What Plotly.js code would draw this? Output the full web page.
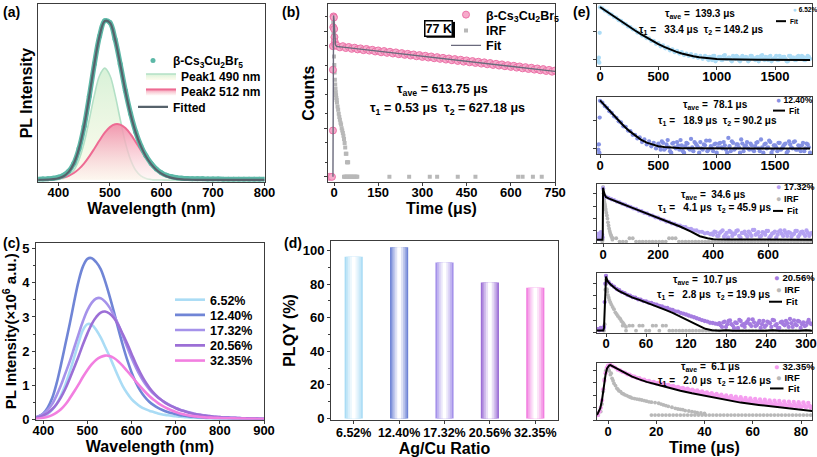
<!DOCTYPE html>
<html><head><meta charset="utf-8">
<script src="https://cdn.plot.ly/plotly-3.0.1.min.js"></script>
<style>html,body{margin:0;padding:0;background:#fff}#chart{width:817px;height:457px}</style>
</head><body><div id="chart"></div>
<script>
// ================= DATA =================
// (a) PL spectrum of beta-Cs3Cu2Br5 with two-peak fit
const wlA = [360,370,380,390,400,410,420,430,440,450,460,470,480,490,500,510,520,530,540,550,560,570,580,590,600,610,620,630,640,650,660,670,680,690,700,710,720,730,740,750,760,770,780,790,800];
const dataA = [0.004,0.005,0.007,0.010,0.016,0.028,0.052,0.101,0.190,0.326,0.508,0.707,0.876,0.968,0.957,0.856,0.705,0.543,0.404,0.292,0.208,0.146,0.100,0.066,0.043,0.028,0.019,0.013,0.010,0.008,0.007,0.006,0.006,0.005,0.005,0.005,0.004,0.004,0.004,0.004,0.004,0.004,0.004,0.004,0.004];
const peak1A = [0,0,0.0002,0.0007,0.0026,0.0084,0.024,0.058,0.123,0.226,0.367,0.517,0.635,0.680,0.635,0.517,0.367,0.226,0.123,0.058,0.024,0.0084,0.0026,0.0007,0.0002,0,0,0,0,0,0,0,0,0,0,0,0,0,0,0,0,0,0,0,0];
const peak2A = [0.0003,0.0007,0.0016,0.0035,0.0071,0.0136,0.0245,0.0417,0.0667,0.1006,0.143,0.191,0.241,0.287,0.321,0.338,0.336,0.315,0.278,0.231,0.181,0.134,0.093,0.061,0.0377,0.022,0.012,0.0062,0.003,0.0014,0.0006,0.0002,0,0,0,0,0,0,0,0,0,0,0,0,0];
const fitA = [0.0003,0.0007,0.0018,0.0042,0.0097,0.022,0.0485,0.0997,0.190,0.327,0.510,0.708,0.876,0.967,0.956,0.855,0.703,0.541,0.401,0.289,0.205,0.142,0.0956,0.0617,0.0379,0.022,0.012,0.0062,0.003,0.0014,0.0006,0.0002,0,0,0,0,0,0,0,0,0,0,0,0,0];

// (b) decay at 77 K
const bEarlyT = [-15,-7,-3.6,-3.6,-3.6,-2.5,-1.5,-0.5,0.5,1.5,2.5,4,6];
const bEarlyY = [1,1,9,160,490,1200,2000,1900,1100,750,600,530,505];
const bMain = [500,462,489,448,470,431,455,420,440,405,428,396,412,380,399,366,388,356,375,345,364,334,352,324,340,314,330,303,320,294,310,285,300,276,291,268,281,259,273,251,265,243,257,235,249,228,241,221,234,214,227,207,220,201,212,195,206,189,199,183,193,177,187,171,181,166,176,161,170,156,165,151,159,146,154];
const bIrfT = [-3.6,-3,-2,-1,0,1,2,3,4,5,6,7,8,9,10,12,14,16,18,20,22,24,26,28,30,32,34,36,38,40,42,44,46,48];
const bIrfY = [2100,1500,900,500,300,200,140,100,80,65,55,48,42,38,34,28,24,20,17,15,13,12,10,9,8,7,6,5,4,3,3,2,2,2];
const bIrfBaseT = [34,37,40,43,46,49,52,55,58,61,64,67,70,73,76,79,188,255,325,350,420,480,625,640,675,705];
const bIrfBaseY = [1,1,1,1,1,1,1,1,1,1,1,1,1,1,1,1,1,1,1,1,1,1,1,1,1,1];
const bFitT = [-3.6,-3.4,-2.5,-1.5,0,1,2,3,5,7,10,30,50,70,90,110,130,150,170,190,210,230,250,270,290,310,330,350,370,390,410,430,450,470,490,510,530,550,570,590,610,630,650,670,690,710,730,750];
const bFitY = [1,300,1500,2100,1700,1100,750,600,520,500,482.3,467.1,452.5,438.3,424.5,411.2,398.3,385.8,373.7,361.9,350.6,339.6,328.9,318.6,308.6,298.9,289.5,280.4,271.6,263.1,254.8,246.8,239.1,231.6,224.3,217.3,210.5,203.9,197.5,191.3,185.2,179.4,173.8,168.3,163.0,157.9,153.0,148.2];

// (c) PL spectra vs Ag/Cu ratio (x10^6 a.u.)
const wlC = [380,390,400,410,420,430,440,450,460,470,480,490,500,510,520,530,540,550,560,570,580,590,600,610,620,630,640,650,660,670,680,690,700,710,720,730,740,750,760,770,780,790,800,810,820,830,840,850,860,870,880,890,900];
const s652 = [0.03,0.05,0.09,0.16,0.28,0.45,0.70,1.02,1.40,1.82,2.25,2.62,2.79,2.77,2.62,2.40,2.13,1.85,1.55,1.25,0.98,0.77,0.60,0.48,0.38,0.31,0.26,0.22,0.18,0.15,0.13,0.11,0.095,0.08,0.07,0.06,0.05,0.045,0.04,0.035,0.03,0.027,0.024,0.02,0.018,0.016,0.014,0.012,0.01,0.01,0.01,0.01,0.01];
const s1240 = [0.05,0.10,0.18,0.35,0.62,1.05,1.60,2.20,2.80,3.45,4.05,4.48,4.70,4.72,4.60,4.40,4.05,3.62,3.15,2.65,2.18,1.75,1.38,1.08,0.84,0.66,0.52,0.42,0.34,0.28,0.23,0.19,0.16,0.13,0.11,0.09,0.08,0.07,0.06,0.05,0.045,0.04,0.035,0.03,0.028,0.025,0.022,0.02,0.018,0.016,0.014,0.012,0.01];
const s1732 = [0.06,0.10,0.17,0.28,0.45,0.70,1.00,1.35,1.70,2.10,2.50,2.88,3.20,3.42,3.54,3.55,3.45,3.28,3.05,2.78,2.45,2.12,1.80,1.52,1.27,1.06,0.89,0.75,0.64,0.55,0.47,0.40,0.34,0.29,0.25,0.21,0.18,0.15,0.13,0.11,0.095,0.08,0.07,0.06,0.055,0.05,0.045,0.04,0.035,0.03,0.028,0.025,0.02];
const s2056 = [0.04,0.07,0.12,0.19,0.30,0.45,0.65,0.90,1.20,1.52,1.85,2.20,2.52,2.80,3.00,3.13,3.16,3.10,2.97,2.76,2.50,2.22,1.92,1.62,1.36,1.13,0.94,0.78,0.65,0.55,0.46,0.39,0.33,0.28,0.24,0.20,0.17,0.145,0.125,0.11,0.095,0.08,0.07,0.06,0.055,0.05,0.045,0.04,0.035,0.03,0.028,0.025,0.02];
const s3235 = [0.02,0.03,0.05,0.08,0.13,0.20,0.30,0.44,0.62,0.82,1.03,1.25,1.45,1.62,1.75,1.83,1.87,1.86,1.80,1.70,1.57,1.42,1.27,1.11,0.96,0.82,0.69,0.58,0.48,0.40,0.33,0.27,0.22,0.18,0.15,0.12,0.10,0.085,0.07,0.06,0.055,0.05,0.045,0.04,0.04,0.035,0.03,0.03,0.025,0.02,0.02,0.015,0.015];
const ratioLabels = ['6.52%','12.40%','17.32%','20.56%','32.35%'];

// (d) PLQY
const plqy = [96.3,102.0,92.9,81.0,77.9];

// (e) decays (arbitrary counts)
const e1PreT = [-14,-10,-6,-3], e1PreY = [9,12,8,93];
const e1Data = [760,700,585,540,448,415,345,322,265,248,205,192,158,150,124,118,96,93,75,74,60,59,48,48,38,40,31,33,26,28,22,24,19,21,17,19,15,17,14,16,13,15,12,14,11,14,11,13,10,14,11,13,10,14,11,12,10,14,11,13,9,14,11,12,10,14,11,12,9,14,11,13,10,14,11,12,10,14,11,13,9,14,11,12,10,14,11,13,10,14,11];
const e1Data2 = [13,10,12,14,9,11,13,10,15,11,12,9,13,14,10,12,11,13,9,14,12,10,13,11,15,10,12,13,9,11,14,10,12,13,11,9,14,12,10,13,11,14,10,12,13];
const e1Fit = [780,560,404,291,211,154,113,83.5,62.5,47.6,36.9,29.2,23.7,19.8,17,15,13.6,12.6,11.8,11.3,10.9,10.7,10.5,10.35,10.25,10.2,10.15,10.1,10.1,10.05,10.05,10,10,10,10,10,10];

const e2PreT = [-14,-10,-6,-3], e2PreY = [9,14,7,130];
const e2Data = [520,445,338,290,220,190,144,127,95,86,63,60,44,42,31,31,23,25,17,21,14,18,12,16,10,15,9,16,10,20,8,15,11,17,9,13,7,16,10,22,8,15,11,17,9,13,8,19,10,14,7,15,11,17,9,24,8,16,10,14,7,15,12,17,9,13,8,16,10,21,7,15,11,17,9,13,8,16,10,14,7,18,11,17,9,13,8,16,10,14,7];
const e2Data2 = [12,18,9,14,11,7,16,10,13,20,8,12,15,9,11,17,13,7,10,14,19,9,12,8,15,11,16,10,13,7,12,18,9,14,11,21,8,13,10,15,9,12,17,8,11,14,10,19,7,13,11,16,9,12,15,8,14,10,18,9,12,13,8,15,11];
const e2Fit = [540,314,184.5,110,67.4,43,28.9,20.9,16.2,13.6,12.05,11.2,10.7,10.4,10.2,10.1,10.05,10,10,10,10,10,10,10,10,10,10,10,10,10,10,10,10,10,10,10,10];

const e3PreT = [-20,-17,-14,-11,-8,-5,-3,-1], e3PreY = [3,6,2.2,4,8,2.5,5,3];
const e3Data = [28000,5800,4700,3600,3100,2350,2050,1550,1330,1000,880,660,590,430,390,285,260,190,175,128,118,87,80,58,55,41,38,28,27,21,20,15,15,11,11,8.5,8.5,6.5,7,5.5,5,8,4,9,3.5,7,10,4,6,11,3,7,5,9,4,12,6,3.5,8,5,10,4,7,3,9,6,11,4,7,5,10,3.5,8,6,11,4,7];
const e3Data2 = [6,9,4,7,11,5,3,8,6,10,4,7,9,3.5,6,12,5,8,4,7,10,3,6,9,5,11,4,7,8,3.5,6,10,5,9,4,7,6];
const e3FitT = [-22,-10,-2,-1,0,2,5,10,20,37,60,100,159,220,280,320,352,380,401,450,500,550,600,650,700,760];
const e3FitY = [2,2,2,5,30000,18000,9500,5500,4200,3160,1900,830,260,83,23,9,3.8,2.6,2.2,2.05,2,2.1,1.95,2.05,2,2];
const e3IrfT = [-3,-1,0,1,2,3,4,5,6,7,8,9,10,12,14,16,18,20,22,24,26,28,30,32,34];
const e3IrfY = [1.4,2,36000,20000,11000,6000,3500,2200,1600,1260,900,650,480,300,180,100,50,28,16,10,7,5,4,3,2];
const e3IrfBase = [2.6,2.6,1.4,1.4,1.4,2.6,2.6,1.4,1.4,1.4,1.4,1.4,1.4,1.4,1.4,1.4,1.4,2.6,2.6,2.6,1.4,1.4,1.4,1.4,1.4,1.4,1.4,1.4,1.4,1.4,1.4,1.4,1.4,1.4,1.4,1.4,1.4,1.4,1.4,1.4,1.4,1.4,1.4,1.4,1.4,1.4,1.4,1.4,1.4,1.4,1.4,1.4,1.4,1.4,1.4,1.4,1.4,1.4,1.4,1.4,1.4];

const e4PreT = [-12,-10,-8,-6,-4,-3,-2,-1], e4PreY = [2,1.6,2.5,1.8,2.2,3,300,9000];
const e4Data = [38000,12000,7400,5200,3400,2700,1900,1600,1150,990,740,670,510,470,360,345,270,255,200,190,145,135,105,100,76,72,54,52,40,35,30,25,21,18,15,12.5,10.5,9,8,6.5,6.2,5.5,5,4,7,3,9,5,2.5,6,11,4,3,8,5,12,3.5,6,2.5,9,4,7,3,10,5,2.5,8,4,6,13,3,5,9,2.5,7,4,11,5];
const e4Data2 = [6,3,8,5,10,4,7,2.5,9,5,6,12,3.5,7,4,9,5,3,8,6,11,4,2.5,7,5,9,3,6,10,4,8,5,3.5,7,6];
const e4FitT = [-13.5,-8,-4,-3,-2,-1,0,1,3,6.5,10,14,19,25,32,39,50,60,70,79,90,100,109,119,129,139,149,159,170,180,190,200,210,220,230,240,250,260,270,280,290,300,309];
const e4FitY = [1.53,1.53,1.55,2.5,360,8000,34600,22000,13000,8300,5500,3700,2400,1600,1050,720,450,290,180,114,68,40,24,13.5,7.2,3.8,2.1,1.6,1.45,1.6,1.5,1.55,1.4,1.55,1.5,1.45,1.6,1.5,1.45,1.55,1.5,1.6,1.5];
const e4IrfT = [-3,-2,-1,0,0.5,1,1.5,2,3,4,5,6.5,8,10,12,14,16,18,20,21.5,23,25,26.5,28,30];
const e4IrfY = [1.5,5,3000,38000,20000,9000,3300,2000,1100,700,450,290,190,120,80,45,32,22,16,13,9,7,5.2,4,3];
const e4IrfBase = [3.8,1.5,3.8,3.8,1.5,3.8,3.8,1.5,1.5,3.8,3.8,1.5,3.8,3.8,1.5,1.5,1.5,1.5,1.5,1.5,1.5,1.5,1.5,1.5,1.5,1.5,1.5,1.5,1.5,1.5,1.5,1.5,1.5,1.5,1.5,1.5,1.5,1.5,1.5,1.5,1.5,1.5,1.5,1.5,1.5,1.5,1.5,1.5,1.5,1.5,1.5,1.5,1.5,1.5,1.5,1.5,1.5];

const e5PreT = [-4.2,-3.5,-3,-2.5,-2,-1.5,-1,-0.5], e5PreY = [2.6,5,10,40,300,1500,6000,16000];
const e5Data = [24000,27000,21000,17000,11500,9800,7600,6700,4900,4500,3400,3150,2450,2350,1800,1800,1380,1450,1080,1180,870,1000,720,830,590,700,480,580,400,480,330,400,270,340,225,290,190,245,160,205,135,175,112,150,95,130,80,112,68,98,58,88,48,78,42,70,36,62,32,56,28,52,25,48,22,44,20,40,18,37,16,35,15,33,14,31,13,29,12,28,11,27,11,25,10];
const e5Data2 = [960,800,780,660,650,540,520,480,410,400,330,330,270,275,230,225,190,188,160,155,135,130,112,108,95,92,78,79,66,67,55,58,47,50,40,45,35,40,31,35,27,32,25,29,22,27,20,25,18,23,17,21,16,20,15,19,14,18,13.5,17,13,16,12.5,15,12];
const e5FitT = [-4.56,-4,-3.2,-2.5,-1.8,-1,-0.4,0.5,1,2,3,4.4,6,8,10,13,16,21,26,30,34.8,40,45,48.6,55,62.5,70,76.3,84.6];
const e5FitY = [2.6,4,9.1,40,665,4800,14500,25000,26500,21000,15800,10500,7600,4800,3150,1900,1200,665,363,229,145,91,58,42,26,16.7,11,8,5.5];
const e5IrfT = [-4,-3,-2.5,-2,-1.5,-1,-0.5,0,0.5,1,1.7,2.5,3.7,4.5,5.8,7,8.6,10,12,14,16,18,21,23,25,27.9,30,32,34.8,37,40,0.2,1.3,2.1,3.1,4.1,5.2,6.4,7.8,9.3,11,13,15,17,19.5,22,24,26.5,29,31,33.5,36,38.5];
const e5IrfY = [2.6,5,20,200,2000,9000,14500,15000,9000,4500,2300,900,363,230,145,110,79,60,50,42,34,28,23,17,13,9,7.5,6,5,4,3.5,12000,6000,1500,600,300,200,130,95,70,55,46,38,30,26,20,15,11,8,7,5.5,4.5,3.8];
const e5IrfBase = [2.6,2.6,2.6,2.6,2.6,2.6,2.6,2.6,2.6,2.6,2.6,2.6,2.6,2.6,2.6,2.6,2.6,2.6,2.6,2.6,2.6,2.6,2.6,2.6,2.6,2.6,2.6,2.6,2.6,2.6,2.6,2.6,2.6,2.6,2.6,2.6,2.6,2.6,2.6,2.6,2.6,2.6,2.6,2.6,2.6];

// ================= STYLE / LAYOUT =================
const W = 817, H = 457;
const X = p => p / W, Y = p => 1 - p / H;
const FAM = 'Liberation Sans, Arial, sans-serif';
const f = (s, c) => ({family: FAM, size: s, color: c || '#000', weight: 'bold'});
const LC = '#3c3c3c';
function ax(o) {
  return Object.assign({showline: true, linecolor: LC, linewidth: 1, mirror: true, ticks: 'outside', ticklen: 3,
    tickwidth: 1, tickcolor: LC, showgrid: false, zeroline: false, tickfont: f(13), fixedrange: true}, o);
}
const COL = {
  teal: '#5cb8a7', fitA: '#56626b', p1: '#b3e0c6', p2: '#ee6b93',
  bPink: '#f6abcb', bPinkLine: '#ec72a8', irf: '#b8b8b8', fitB: '#6a6a7c',
  c: ['#aadcf5', '#7085d6', '#a592ea', '#9c6fd6', '#f27fe0'],
  e: ['#acdcf6', '#8592e4', '#b4a2f2', '#a57ce0', '#f59ef0']
};
function mix(hex, t) { // t=0 -> colour, t=1 -> white
  const n = parseInt(hex.slice(1), 16);
  const r = (n >> 16) & 255, g = (n >> 8) & 255, b = n & 255;
  const m = v => Math.round(v + (255 - v) * t);
  return 'rgb(' + m(r) + ',' + m(g) + ',' + m(b) + ')';
}

const traces = [];
// ----- (a)
traces.push({x: wlA, y: peak1A, type: 'scatter', mode: 'lines', name: 'Peak1 490 nm', legend: 'legend2',
  line: {color: COL.p1, width: 1.6, shape: 'spline'}, fill: 'tozeroy',
  fillgradient: {type: 'vertical', start: 0, stop: 0.68, colorscale: [[0, 'rgba(252,250,230,0.7)'], [1, 'rgba(214,241,214,0.95)']]},
  xaxis: 'x', yaxis: 'y'});
traces.push({x: wlA, y: peak2A, type: 'scatter', mode: 'lines', name: 'Peak2 512 nm', legend: 'legend3',
  line: {color: COL.p2, width: 2, shape: 'spline'}, fill: 'tozeroy',
  fillgradient: {type: 'vertical', start: 0, stop: 0.34, colorscale: [[0, 'rgba(253,244,240,0.6)'], [1, 'rgba(242,140,168,0.9)']]},
  xaxis: 'x', yaxis: 'y'});
traces.push({x: wlA, y: dataA, type: 'scatter', mode: 'lines', showlegend: false,
  line: {color: COL.teal, width: 5, shape: 'spline'}, xaxis: 'x', yaxis: 'y'});
traces.push({x: wlA, y: dataA, type: 'scatter', mode: 'markers', name: 'β-Cs<sub>3</sub>Cu<sub>2</sub>Br<sub>5</sub>',
  legend: 'legend', marker: {color: COL.teal, size: 5}, xaxis: 'x', yaxis: 'y'});
traces.push({x: wlA, y: fitA, type: 'scatter', mode: 'lines', name: 'Fitted', legend: 'legend4',
  line: {color: COL.fitA, width: 2.2, shape: 'spline'}, xaxis: 'x', yaxis: 'y'});

// ----- (b)
traces.push({x: bIrfT, y: bIrfY, type: 'scatter', mode: 'markers', name: 'IRF', legend: 'legend6',
  marker: {symbol: 'square', color: COL.irf, size: 4}, xaxis: 'x2', yaxis: 'y2'});
traces.push({x: bIrfBaseT, y: bIrfBaseY, type: 'scatter', mode: 'markers', showlegend: false,
  marker: {symbol: 'square', color: COL.irf, size: 4}, xaxis: 'x2', yaxis: 'y2'});
traces.push({x: bEarlyT, y: bEarlyY, type: 'scatter', mode: 'markers', name: 'β-Cs<sub>3</sub>Cu<sub>2</sub>Br<sub>5</sub>',
  legend: 'legend5', marker: {color: COL.bPink, size: 7, line: {color: COL.bPinkLine, width: 1}}, xaxis: 'x2', yaxis: 'y2'});
traces.push({x0: 10, dx: 10, y: bMain, type: 'scatter', mode: 'markers', showlegend: false,
  marker: {color: COL.bPink, size: 7, line: {color: COL.bPinkLine, width: 1}}, xaxis: 'x2', yaxis: 'y2'});
traces.push({x: bFitT, y: bFitY, type: 'scatter', mode: 'lines', name: 'Fit', legend: 'legend7',
  line: {color: COL.fitB, width: 1.4}, xaxis: 'x2', yaxis: 'y2'});

// ----- (c)
[s652, s1240, s1732, s2056, s3235].forEach((s, i) => {
  traces.push({x: wlC, y: s, type: 'scatter', mode: 'lines', name: ratioLabels[i], legend: 'legend' + (8 + i),
    line: {color: COL.c[i], width: 2.6, shape: 'spline'}, xaxis: 'x3', yaxis: 'y3'});
});

// ----- (d) gradient bars built from overlaid bars
const layers = [[0.40, 0], [0.33, 0.3], [0.25, 0.55], [0.17, 0.78], [0.08, 1]];
layers.forEach(([w, t]) => {
  traces.push({type: 'bar', x: ratioLabels, y: plqy, width: w, marker: {color: COL.c.map(c => mix(c, t)), line: {width: 0}},
    showlegend: false, hoverinfo: 'skip', xaxis: 'x4', yaxis: 'y4'});
});

// ----- (e)
const MS = 4.3;
function eTraces(k, data, extra, pre, fit, irf, base) {
  const xa = 'x' + (5 + k), ya = 'y' + (5 + k);
  const col = COL.e[k];
  if (base) traces.push({x0: base.x0, dx: base.dx, y: base.y, type: 'scatter', mode: 'markers', showlegend: false,
    marker: {color: COL.irf, size: 3.8}, xaxis: xa, yaxis: ya});
  if (irf) traces.push({x: irf[0], y: irf[1], type: 'scatter', mode: 'markers', showlegend: false,
    marker: {color: COL.irf, size: 3.8}, xaxis: xa, yaxis: ya});
  traces.push({x: pre[0], y: pre[1], type: 'scatter', mode: 'markers', showlegend: false,
    marker: {color: col, size: MS}, xaxis: xa, yaxis: ya});
  traces.push({x0: data.x0, dx: data.dx, y: data.y, type: 'scatter', mode: 'markers', showlegend: false,
    marker: {color: col, size: MS}, xaxis: xa, yaxis: ya});
  traces.push({x0: extra.x0, dx: extra.dx, y: extra.y, type: 'scatter', mode: 'markers', showlegend: false,
    marker: {color: col, size: MS}, xaxis: xa, yaxis: ya});
  const ft = fit.x ? {x: fit.x} : {x0: fit.x0, dx: fit.dx};
  traces.push(Object.assign(ft, {y: fit.y, type: 'scatter', mode: 'lines', showlegend: false,
    line: {color: '#000', width: 2}, xaxis: xa, yaxis: ya}));
}
eTraces(0, {x0: 0, dx: 20, y: e1Data}, {x0: 910, dx: 20, y: e1Data2}, [e1PreT, e1PreY], {x0: 0, dx: 50, y: e1Fit});
eTraces(1, {x0: 0, dx: 20, y: e2Data}, {x0: 510, dx: 20, y: e2Data2}, [e2PreT, e2PreY], {x0: 0, dx: 50, y: e2Fit});
eTraces(2, {x0: 0, dx: 10, y: e3Data}, {x0: 395, dx: 10, y: e3Data2}, [e3PreT, e3PreY], {x: e3FitT, y: e3FitY}, [e3IrfT, e3IrfY], {x0: 36, dx: 12, y: e3IrfBase});
eTraces(3, {x0: 0, dx: 4, y: e4Data}, {x0: 170, dx: 4, y: e4Data2}, [e4PreT, e4PreY], {x: e4FitT, y: e4FitY}, [e4IrfT, e4IrfY], {x0: 25, dx: 5, y: e4IrfBase});
eTraces(4, {x0: 0, dx: 1, y: e5Data}, {x0: 20.5, dx: 1, y: e5Data2}, [e5PreT, e5PreY], {x: e5FitT, y: e5FitY}, [e5IrfT, e5IrfY], {x0: 18, dx: 1.5, y: e5IrfBase});

// ----- layout
const TLS = -4;
const layout = {
  width: W, height: H, margin: {l: 0, r: 0, t: 0, b: 0}, paper_bgcolor: '#fff', plot_bgcolor: '#fff',
  showlegend: true, barmode: 'overlay', font: f(13),
  xaxis: ax({domain: [X(38.3), X(264.5)], anchor: 'y', range: [361, 800], dtick: 100, tick0: 0, ticklabelstandoff: TLS,
    title: {text: 'Wavelength (nm)', font: f(16), standoff: 0}}),
  yaxis: ax({domain: [Y(180), Y(1.5)], anchor: 'x', range: [-0.012, 1.067], showticklabels: false, ticks: '',
    title: {text: 'PL Intensity', font: f(16), standoff: 0}}),
  xaxis2: ax({domain: [X(328), X(555)], anchor: 'y2', range: [-20.4, 750], dtick: 150, tick0: 0, ticklabelstandoff: TLS,
    title: {text: 'Time (μs)', font: f(16), standoff: 0}}),
  yaxis2: ax({domain: [Y(180), Y(1.5)], anchor: 'x2', type: 'log', range: [-0.102, 3.547], dtick: 1, showticklabels: false,
    minor: {ticks: 'outside', ticklen: 2, dtick: 'D2', tickcolor: LC},
    title: {text: 'Counts', font: f(16), standoff: 5}}),
  xaxis3: ax({domain: [X(36), X(264)], anchor: 'y3', range: [383.5, 900], dtick: 100, tick0: 0, ticklabelstandoff: TLS,
    title: {text: 'Wavelength (nm)', font: f(16), standoff: 0}}),
  yaxis3: ax({domain: [Y(419.3), Y(241.7)], anchor: 'x3', range: [0, 5.16], dtick: 1,
    minor: {ticks: 'outside', ticklen: 2, dtick: 0.5, tickcolor: LC},
    title: {text: 'PL Intensity(×10<sup>6</sup> a.u.)', font: f(15), standoff: 1}}),
  xaxis4: ax({domain: [X(331), X(558)], anchor: 'y4', type: 'category', range: [-0.5, 4.5], tickfont: f(12.5), ticklabelstandoff: -2,
    title: {text: 'Ag/Cu Ratio', font: f(16), standoff: 1}}),
  yaxis4: ax({domain: [Y(419.3), Y(240)], anchor: 'x4', range: [-0.6, 105.4], dtick: 20,
    minor: {ticks: 'outside', ticklen: 2, dtick: 10, tickcolor: LC},
    title: {text: 'PLQY (%)', font: f(16), standoff: 3}}),
  annotations: [], shapes: []
};
function leg(name, pxLeft, pyCenter, size) {
  layout[name] = {x: X(pxLeft), y: Y(pyCenter), xanchor: 'left', yanchor: 'middle', font: f(size),
    bgcolor: 'rgba(0,0,0,0)', borderwidth: 0, tracegroupgap: 0};
}
// (a) legends, one entry each
leg('legend', 133, 58, 12); leg('legend2', 141, 73.5, 12); leg('legend3', 141, 89, 12); leg('legend4', 133, 104.5, 12);
// (b)
leg('legend5', 446, 12, 12.5); leg('legend6', 446, 28, 12.5); leg('legend7', 446, 43, 12.5);
// (c)
[299, 314.3, 329.6, 345, 360.3].forEach((py, i) => leg('legend' + (8 + i), 170, py, 12.5));

const eX = [X(597), X(812)];
const eDom = [[Y(63), Y(1)], [Y(152), Y(95)], [Y(242), Y(182)], [Y(332), Y(271.3)], [Y(420), Y(362.3)]];
const eXr = [[-26, 1817], [-26, 1817], [-22, 760], [-13.5, 309], [-4.56, 84.56]];
const eDt = [500, 500, 200, 60, 20];
const eYr = [[0.8, 3.0], [0.8, 2.84], [0, 4.8], [0, 4.86], [0, 4.6]];
for (let k = 0; k < 5; k++) {
  const xo = {domain: eX, anchor: 'y' + (5 + k), range: eXr[k], dtick: eDt[k], tick0: 0, ticklabelstandoff: TLS};
  if (k === 4) xo.title = {text: 'Time (μs)', font: f(16), standoff: 2};
  layout['xaxis' + (5 + k)] = ax(xo);
  layout['yaxis' + (5 + k)] = ax({domain: eDom[k], anchor: 'x' + (5 + k), type: 'log', range: eYr[k], dtick: 1, showticklabels: false});
}

function ann(px, py, text, size, o) {
  layout.annotations.push(Object.assign({xref: 'paper', yref: 'paper', x: X(px), y: Y(py), text: text, showarrow: false,
    font: f(size), xanchor: 'center', yanchor: 'middle'}, o || {}));
}
// panel labels
ann(1, 9, '(a)', 14, {xanchor: 'left'});
ann(280, 9, '(b)', 14, {xanchor: 'left'});
ann(1, 242, '(c)', 14, {xanchor: 'left'});
ann(282, 242, '(d)', 14, {xanchor: 'left'});
ann(571, 9, '(e)', 14, {xanchor: 'left'});
// (b) "77 K" box with drop shadow
layout.shapes.push({type: 'rect', xref: 'paper', yref: 'paper', x0: X(426.5), x1: X(455), y0: Y(35), y1: Y(19),
  fillcolor: '#000', line: {width: 0}});
ann(439, 25.5, '77 K', 12.5, {bgcolor: '#fff', bordercolor: '#000', borderwidth: 1.5, borderpad: 0});
ann(442, 88, 'τ<sub>ave</sub> = 613.75 μs', 12.5);
ann(448, 107, 'τ<sub>1</sub> = 0.53 μs\u00a0\u00a0τ<sub>2</sub> = 627.18 μs', 12.5);
// (e) texts
const eTxt = [
  ['139.3', '33.4', '149.2', 700, 11.2, 701.5, 26.7],
  ['78.1', '18.9', '90.2', 715, 102.8, 717.5, 118.3],
  ['34.6', '4.1', '45.9', 713, 192.8, 714, 206.7],
  ['10.7', '2.8', '19.9', 705, 279.2, 713, 294],
  ['6.1', '2.0', '12.6', 710, 366.6, 714.5, 380.2]
];
eTxt.forEach(t => {
  ann(t[3], t[4], 'τ<sub>ave</sub> =\u00a0 ' + t[0] + ' μs', 10);
  ann(t[5], t[6], 'τ<sub>1</sub> =\u00a0\u00a0 ' + t[1] + ' μs\u00a0\u00a0τ<sub>2</sub> = ' + t[2] + ' μs', 10);
});
// (e) legends (small, drawn as text + line samples)
const eLegFont = [6.5, 8.5, 9, 9.5, 9.5];
const eLeg = [
  [[ratioLabels[0], 794, 7]], [[ratioLabels[1], 777, 97.3]], [[ratioLabels[2], 777, 185.7], ['IRF', 777, 197.3]],
  [[ratioLabels[3], 775, 276.3], ['IRF', 777, 288.7]], [[ratioLabels[4], 775, 366.3], ['IRF', 777, 377.3]]
];
const eFitLeg = [[776, 786, 18.3], [773, 785, 108.3], [773, 783, 209.3], [769, 782, 300.7], [770, 783.5, 388]];
eLeg.forEach((rows, k) => {
  rows.forEach(r => {
    const c = r[0] === 'IRF' ? COL.irf : COL.e[k];
    ann(r[1] - 3, r[2], '<span style="color:' + c + '">●</span> ' + r[0], eLegFont[k], {xanchor: 'left'});
  });
  const fl = eFitLeg[k];
  layout.shapes.push({type: 'line', xref: 'paper', yref: 'paper', x0: X(fl[0]), x1: X(fl[1]), y0: Y(fl[2]), y1: Y(fl[2]),
    line: {color: '#000', width: 2}});
  ann(fl[1] + 2, fl[2], 'Fit', eLegFont[k], {xanchor: 'left'});
});

Plotly.newPlot('chart', traces, layout, {displayModeBar: false, staticPlot: true});
</script>
</body></html>
